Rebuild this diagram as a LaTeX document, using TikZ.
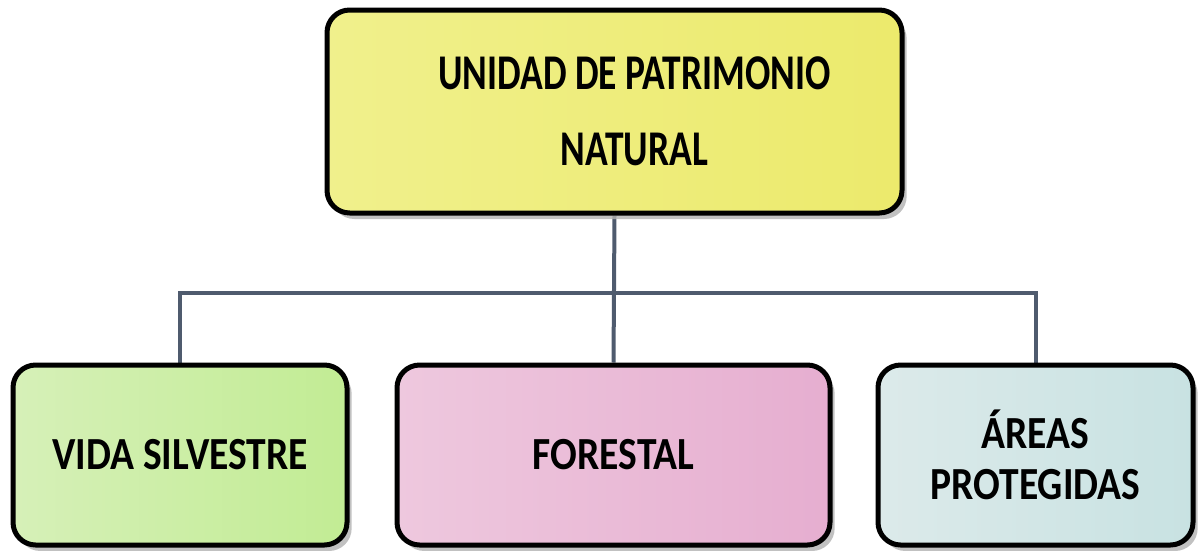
\documentclass[tikz,border=0pt]{standalone}
\usepackage{fontspec}
\setmainfont{Carlito}
\newfontfamily\topfont[FakeStretch=0.75]{Carlito}
\newfontfamily\botfont[FakeStretch=0.86]{Carlito}
\usetikzlibrary{shadows,backgrounds}
\definecolor{conn}{HTML}{4F5B6E}
\definecolor{yelA}{HTML}{F0F08C}
\definecolor{yelB}{HTML}{ECEA6C}
\definecolor{grnA}{HTML}{D6F0B8}
\definecolor{grnB}{HTML}{C2EC94}
\definecolor{pnkA}{HTML}{EEC8DE}
\definecolor{pnkB}{HTML}{E6AED0}
\definecolor{bluA}{HTML}{DCEAEA}
\definecolor{bluB}{HTML}{C8E2E2}
\tikzset{
  box/.style={draw=black, line width=3.75pt, rounded corners=17pt, align=center,
    inner sep=0pt,
    drop shadow={shadow xshift=3.5pt, shadow yshift=-4.5pt, fill=black!30, opacity=0.8}},
  botbox/.style={box, minimum height=180*0.75pt,
    font=\botfont\bfseries\fontsize{34.5pt}{38pt}\selectfont},
  conline/.style={draw=conn, line width=3pt}
}
\begin{document}
\begin{tikzpicture}[x=0.75pt,y=-0.75pt]
\useasboundingbox (0,0) rectangle (1199,550);
\node[box, minimum width=575*0.75pt, minimum height=203*0.75pt,
      left color=yelA, right color=yelB,
      font=\topfont\bfseries\fontsize{37.5pt}{57pt}\selectfont]
      (top) at (614.5,111.5) {\hspace*{30pt}UNIDAD DE PATRIMONIO\\\hspace*{30pt}NATURAL};
\node[botbox, minimum width=334*0.75pt, left color=grnA, right color=grnB]
      (vida) at (180,455) {VIDA SILVESTRE};
\node[botbox, minimum width=433*0.75pt, left color=pnkA, right color=pnkB]
      (fore) at (613.5,455) {FORESTAL};
\node[botbox, minimum width=315*0.75pt, left color=bluA, right color=bluB]
      (area) at (1035.5,455) {ÁREAS\\PROTEGIDAS};
\coordinate (bus) at (613.5,293);
\begin{scope}[on background layer]
\draw[conline] (top.south) -- (fore.north);
\draw[conline] (vida.north) |- (bus) -| (area.north);
\end{scope}
\end{tikzpicture}
\end{document}
